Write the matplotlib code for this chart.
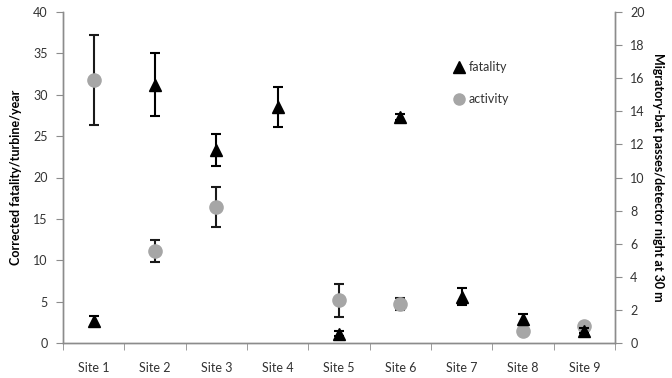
import matplotlib
matplotlib.use("Agg")
import matplotlib.pyplot as plt
import numpy as np
from matplotlib.lines import Line2D

plt.rcParams['font.family'] = ['Lato', 'DejaVu Sans']

sites = ["Site 1", "Site 2", "Site 3", "Site 4", "Site 5", "Site 6", "Site 7", "Site 8", "Site 9"]
fatality = [2.7, 31.2, 23.3, 28.5, 1.1, 27.3, 5.6, 2.85, 1.5]
fatality_err = [0.6, 3.8, 1.9, 2.4, 0.3, 0.4, 1.0, 0.65, 0.3]
activity = [15.9, 5.56, 8.2, np.nan, 2.58, 2.35, np.nan, 0.72, 1.04]
activity_err = [2.7, 0.68, 1.22, np.nan, 1.0, 0.35, np.nan, 0.1, 0.1]
left_ticks = [0, 5, 10, 15, 20, 25, 30, 35, 40]
right_ticks = [0, 2, 4, 6, 8, 10, 12, 14, 16, 18, 20]

spine_c = '#8c8c8c'
text_c = '#333333'

fig = plt.figure(figsize=(6.72, 3.78), dpi=100)
ax = fig.add_axes([63/672, 35/378, 552/672, 331/378])
ax2 = ax.twinx()

x = np.arange(len(sites))
act = np.array(activity, dtype=float)
act_e = np.array(activity_err, dtype=float)
m = ~np.isnan(act)

ax2.errorbar(x[m], act[m], yerr=act_e[m], fmt='o', color='#a6a6a6', markersize=9.5,
             ecolor='#1a1a1a', elinewidth=1.5, capsize=3.5, capthick=1.5, zorder=2)
ax.errorbar(x, fatality, yerr=fatality_err, fmt='^', color='black', markersize=9,
            ecolor='black', elinewidth=1.5, capsize=3.5, capthick=1.5, zorder=3)
ax.set_zorder(ax2.get_zorder() + 1)
ax.patch.set_visible(False)

ax.set_xlim(-0.5, len(sites) - 0.5)
ax.set_ylim(0, 40)
ax2.set_ylim(0, 20)
ax.set_yticks(left_ticks)
ax2.set_yticks(right_ticks)
ax.set_xticks(x)
ax.set_xticklabels(sites)
ax.set_xticks(np.arange(-0.5, len(sites)), minor=True)
ax.tick_params(axis='x', which='major', length=0, pad=14, labelsize=9, labelcolor=text_c)
ax.tick_params(axis='x', which='minor', length=5, color=spine_c, direction='out')
ax.tick_params(axis='y', length=5, color=spine_c, labelsize=9, labelcolor=text_c, pad=6)
ax2.tick_params(axis='y', length=5, color=spine_c, labelsize=9, labelcolor=text_c, pad=6)

for a in (ax, ax2):
    a.spines['top'].set_visible(False)
    for s in ('left', 'right', 'bottom'):
        a.spines[s].set_color(spine_c)
        a.spines[s].set_linewidth(1.0)

ax.set_ylabel("Corrected fatality/turbine/year", fontsize=9, fontweight='bold', color='black', labelpad=8)
ax2.set_ylabel("Migratory-bat passes/detector night at 30 m", fontsize=9, fontweight='bold',
               color='black', rotation=-90, labelpad=14)

handles = [Line2D([], [], marker='^', color='black', linestyle='none', markersize=8),
           Line2D([], [], marker='o', color='#a6a6a6', linestyle='none', markersize=8)]
ax.legend(handles, ['fatality', 'activity'], loc='upper left', bbox_to_anchor=(0.685, 0.885),
          frameon=False, fontsize=9, labelspacing=1.6, handletextpad=0.3, handlelength=1.0,
          labelcolor=text_c)

fig.savefig('out.png', dpi=100)
